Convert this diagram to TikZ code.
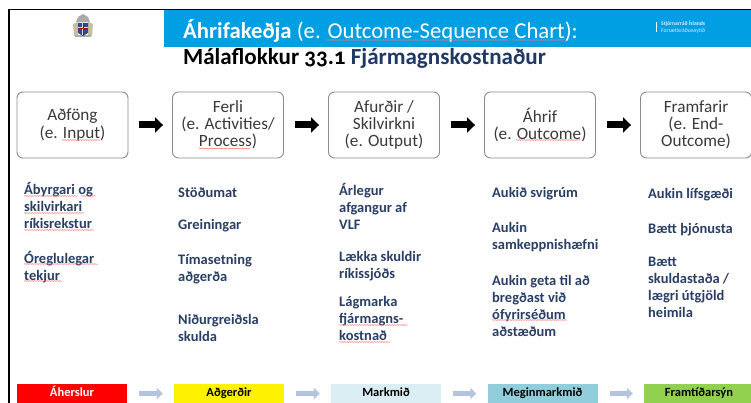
\documentclass[tikz,border=0pt]{standalone}
\usepackage{fontspec}
\setmainfont{Carlito}[Numbers=OldStyle]
\usetikzlibrary{arrows.meta,decorations.pathmorphing}
\definecolor{band}{HTML}{009FE3}
\definecolor{navy}{HTML}{1F3864}
\definecolor{lista}{HTML}{2A3F66}
\definecolor{boxline}{HTML}{8C8C8C}
\definecolor{boxtext}{HTML}{3A3A3A}
\definecolor{pale}{HTML}{B4C4DE}
\definecolor{barC}{HTML}{DAEEF3}
\definecolor{barD}{HTML}{92CDDC}
\definecolor{barE}{HTML}{92D050}
\definecolor{armsA}{HTML}{A9ABA8}
\definecolor{armsB}{HTML}{C9BFA0}
\definecolor{armsC}{HTML}{24508F}
\tikzset{
  flowbox/.style={draw=boxline,line width=0.9pt,rounded corners=6pt,minimum width=111pt,minimum height=66pt,
    align=center,inner sep=0pt,text=boxtext,font=\fontsize{17.2}{17.2}\selectfont},
  blockarrow/.style={line width=7pt,-{Triangle[length=8pt,width=15pt]},shorten <=11pt,shorten >=9pt,black},
  palearrow/.style={line width=5pt,pale,-{Triangle[length=6pt,width=11pt]},shorten <=12pt,shorten >=11pt},
  listtext/.style={anchor=north west,align=left,inner sep=0pt,text=lista,font=\fontsize{14.5}{17}\selectfont\bfseries},
  barbox/.style={minimum width=110pt,minimum height=19pt,inner sep=0pt,text height=9pt,text depth=4pt,font=\fontsize{12.5}{12.5}\selectfont\bfseries},
  squig/.style={draw=red!55!white,line width=0.5pt,decorate,decoration={snake,amplitude=0.4pt,segment length=2.5pt}}
}
\begin{document}
\begin{tikzpicture}[x=1pt,y=-1pt]
\useasboundingbox (0,0) rectangle (751,403);
\fill[white] (0,0) rectangle (751,403);
\fill[band] (164,10) rectangle (751,47);
\draw[black,line width=1.3pt] (9,403) -- (9,9.5) -- (751,9.5);
% coat of arms
\fill[armsB] (73,24) -- (78,22) -- (78,36) -- (74,36) -- cycle;
\fill[armsB] (93,24) -- (88,22) -- (88,36) -- (92,36) -- cycle;
\fill[armsA] (76,22) -- (78,17) -- (83,14) -- (88,17) -- (90,22) -- cycle;
\fill[armsA] (75,35) rectangle (91,37.5);
\fill[armsC] (78,23) -- (88,23) -- (88,33) -- (83,36) -- (78,33) -- cycle;
\fill[white!80!red] (82,23) rectangle (84,35.5);
\fill[white!80!red] (78,27) rectangle (88,29);
\fill[red!70!black] (82.6,23) rectangle (83.4,35.5);
\fill[red!70!black] (78,27.6) rectangle (88,28.4);
% header
\node[anchor=base west,inner sep=0pt,text=white,font=\fontsize{22.7}{22.7}\selectfont] (title) at (183,39) {\textbf{Áhrifakeðja} (e. Outcome-Sequence Chart):};
\node[anchor=base west,inner sep=0pt,font=\fontsize{23.05}{23.05}\selectfont\bfseries] (sub) at (183,65) {Málaflokkur 33.1 \textcolor{navy}{Fjármagnskostnaður}};
\draw[white,line width=0.4pt] (656,22) -- (656,32);
\node[anchor=west,inner sep=0pt,align=left,text=white!85!band,font=\fontsize{5.6}{6.5}\selectfont] (min) at (661,27) {\textbf{Stjórnarráð Íslands}\\Forsætisráðuneytið};
% boxes
\node[flowbox] (b1) at (72.5,125) {Aðföng\\(e. Input)};
\node[flowbox] (b2) at (228,125) {Ferli\\(e. Activities/\\Process)};
\node[flowbox] (b3) at (384,125) {Afurðir /\\Skilvirkni\\(e. Output)};
\node[flowbox] (b4) at (540,125) {Áhrif\\(e. Outcome)};
\node[flowbox] (b5) at (696,125) {Framfarir\\(e. End-\\Outcome)};
\foreach \a/\b in {b1/b2,b2/b3,b3/b4,b4/b5}
  \draw[blockarrow] (\a) -- (\b);
% lists
\node[listtext] (l1a) at (24,182) {Ábyrgari og\\skilvirkari\\ríkisrekstur};
\node[listtext] (l1b) at (24,251) {Óreglulegar\\tekjur};
\node[listtext] (l2a) at (178,187) {Stöðumat};
\node[listtext] (l2b) at (178,219) {Greiningar};
\node[listtext] (l2c) at (178,254) {Tímasetning\\aðgerða};
\node[listtext] (l2d) at (178,314) {Niðurgreiðsla\\skulda};
\node[listtext] (l3a) at (339,183) {Árlegur\\afgangur af\\VLF};
\node[listtext] (l3b) at (339,251) {Lækka skuldir\\ríkissjóðs};
\node[listtext] (l3c) at (339,296) {Lágmarka\\fjármagns-\\kostnað};
\node[listtext] (l4a) at (492,187) {Aukið svigrúm};
\node[listtext] (l4b) at (492,222) {Aukin\\samkeppnishæfni};
\node[listtext] (l4c) at (492,275) {Aukin geta til að\\bregðast við\\ófyrirséðum\\aðstæðum};
\node[listtext] (l5a) at (648,188) {Aukin lífsgæði};
\node[listtext] (l5b) at (648,223) {Bætt þjónusta};
\node[listtext] (l5c) at (648,257) {Bætt\\skuldastaða /\\lægri útgjöld\\heimila};
% spell-check underlines
\foreach \xa/\xb/\yy in {62/100/140,199/250/148.5,516/581/140,
  325/509/40,513/565/40,
  24/78/196,81/96/196,24/84/213,24/94/230,24/98/264,24/62/281,
  339/408/325,339/390/342,492/567/320}
  \draw[squig] (\xa,\yy) -- (\xb,\yy);
% bottom bars
\node[barbox,fill=red,text=white] (c1) at (72,393.5) {Áherslur};
\node[barbox,fill=yellow,text=black] (c2) at (229,393.5) {Aðgerðir};
\node[barbox,fill=barC,text=black] (c3) at (386,393.5) {Markmið};
\node[barbox,fill=barD,text=black] (c4) at (542.5,393.5) {Meginmarkmið};
\node[barbox,fill=barE,text=black] (c5) at (699,393.5) {Framtíðarsýn};
\foreach \a/\b in {c1/c2,c2/c3,c3/c4,c4/c5}
  \draw[palearrow] (\a) -- (\b);
\end{tikzpicture}
\end{document}
